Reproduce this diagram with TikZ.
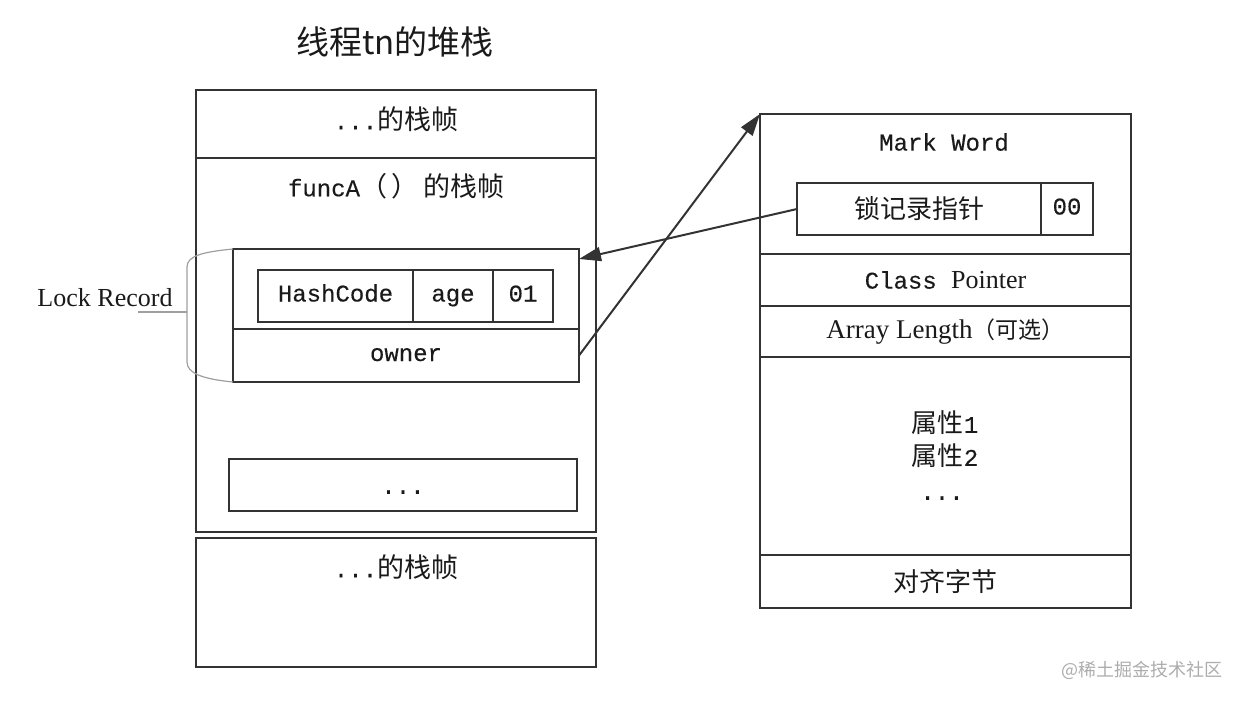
\documentclass[tikz,border=0pt]{standalone}
\usepackage{fontspec}
\setmainfont{Liberation Mono}[FakeBold=0.25]
\newfontfamily\cjk{Noto Sans CJK SC}
\newfontfamily\tms{Liberation Serif}
\usetikzlibrary{arrows.meta}
\definecolor{lc}{HTML}{333333}
\definecolor{tc}{HTML}{1A1A1A}
\newcommand\zhtxt[2][27]{{\cjk\fontsize{#1}{#1}\selectfont #2}}
\begin{document}
\begin{tikzpicture}[x=1pt,y=-1pt,
  box/.style={draw=lc,line width=2.4pt,inner sep=0pt,outer sep=0pt,anchor=north west,text=tc,
              font=\fontsize{24}{28}\selectfont},
  cell/.style={box,text height=15pt,text depth=4pt},
  frame/.style={box,line width=2.6pt},
  txt/.style={inner sep=0pt,text=tc,font=\fontsize{24}{28}\selectfont},
  arr/.style={draw=lc,line width=2pt,-{Triangle[length=22pt,width=14pt]}},
  bracepath/.style={draw=gray!75,line width=1.2pt}
]
\useasboundingbox (0,0) rectangle (1242,702);

% title
\node[txt,font=\cjk\fontsize{33}{36}\selectfont] (title) at (395,42) {线程tn的堆栈};

% ---------- left stack ----------
\node[frame,minimum width=400pt,minimum height=68pt] (topf) at (196,90) {};
\node[txt] (topt) at (396,119) {...\zhtxt{的栈帧}};
\node[frame,minimum width=400pt,minimum height=374pt] (funcf) at (196,158) {};
\node[txt] (funct) at (396,186) {funcA\zhtxt{（\,）\,的栈帧}};

\node[box,minimum width=346pt,minimum height=80pt] (lockup) at (233,249) {};
\node[cell,minimum width=346pt,minimum height=53pt] (owner) at (233,329) {owner};
\node[cell,minimum width=155pt,minimum height=52pt] (hash) at (258,270) {HashCode};
\node[cell,minimum width=80pt,minimum height=52pt] (age) at (413,270) {age};
\node[cell,minimum width=60pt,minimum height=52pt] (zo) at (493,270) {01};

\node[box,minimum width=348pt,minimum height=52pt] (dots) at (229,459) {};
\node[txt] (dotst) at (403,492) {...};

\node[frame,minimum width=400pt,minimum height=129pt] (botf) at (196,538) {};
\node[txt] (bott) at (396,567) {...\zhtxt{的栈帧}};

% Lock Record brace
\node[txt,font=\tms\fontsize{26}{28}\selectfont] (lr) at (105,298) {Lock Record};
\coordinate (bm) at (187,312);
\coordinate (lrend) at (138,312);
\draw[bracepath] (lockup.north west) .. controls (202,252) and (187,256) .. (187,267)
   -- (187,362) .. controls (187,373) and (202,379) .. (owner.south west);
\draw[bracepath] (lrend) -- (bm);

% ---------- right object ----------
\node[frame,minimum width=371pt,minimum height=140pt] (mark) at (760,114) {};
\node[txt] (markt) at (944,142) {Mark Word};
\node[box,minimum width=244pt,minimum height=52pt] (ptr) at (797,183) {\zhtxt[26]{锁记录指针}};
\node[cell,minimum width=52pt,minimum height=52pt] (zz) at (1041,183) {00};
\node[frame,minimum width=371pt,minimum height=52pt] (cls) at (760,254) {Class {\tms\fontsize{26}{28}\selectfont Pointer}};
\node[frame,minimum width=371pt,minimum height=51pt] (arrl) at (760,306)
  {{\tms\fontsize{27}{28}\selectfont Array Length}\zhtxt[23]{（可选）}};
\node[frame,minimum width=371pt,minimum height=198pt] (fields) at (760,357) {};
\node[txt] (f1) at (945,423) {\zhtxt[26]{属性}1};
\node[txt] (f2) at (945,456) {\zhtxt[26]{属性}2};
\node[txt] (f3) at (942,498) {...};
\node[frame,minimum width=371pt,minimum height=53pt] (align) at (760,555) {\zhtxt[26]{对齐字节}};

% arrows
\coordinate (lockin) at (579,259);
\draw[arr] (ptr.west) -- (lockin);
\draw[arr] (owner.east) -- (mark.north west);

% watermark
\node[txt,text=gray!65,font=\cjk\fontsize{18}{20}\selectfont] (wm) at (1142,670) {@稀土掘金技术社区};
\end{tikzpicture}
\end{document}
